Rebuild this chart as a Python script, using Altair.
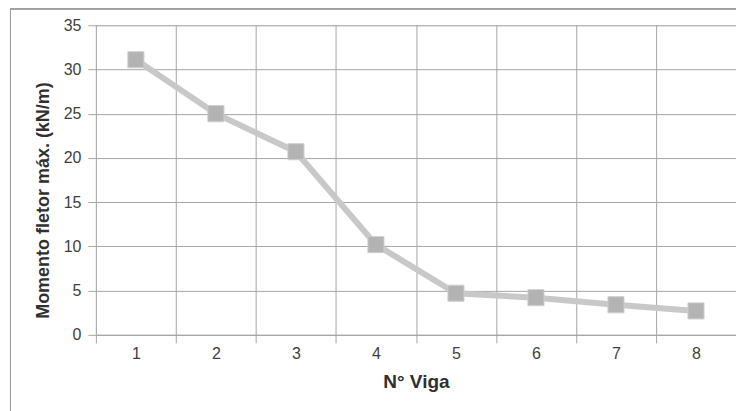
import altair as alt
import pandas as pd

vigas = ["1", "2", "3", "4", "5", "6", "7", "8"]
momento = [31.1, 25.0, 20.7, 10.2, 4.7, 4.2, 3.4, 2.7]

df = pd.DataFrame({"viga": vigas, "momento": momento})

FONT = "Liberation Sans"
GRID = "#a6a6a6"

x = alt.X("viga:N", sort=vigas, title="N° Viga",
          scale=alt.Scale(paddingInner=0, paddingOuter=0),
          axis=alt.Axis(labelAngle=0, tickBand="extent", grid=True, gridColor=GRID,
                        domainColor=GRID, tickColor=GRID, tickSize=8, labelPadding=3,
                        labelFontSize=16, labelColor="#404040", labelFont=FONT,
                        titleFont=FONT, titleFontSize=19, titleFontWeight="bold",
                        titleColor="#303030", titlePadding=11))
y = alt.Y("momento:Q", title="Momento fletor máx.  (kN/m)",
          scale=alt.Scale(domain=[0, 35], nice=False),
          axis=alt.Axis(values=[0, 5, 10, 15, 20, 25, 30, 35], grid=True, gridColor=GRID,
                        domain=False, tickColor=GRID, tickSize=8, labelPadding=7,
                        labelFontSize=16, labelColor="#404040", labelFont=FONT,
                        titleFont=FONT, titleFontSize=18, titleFontWeight="bold",
                        titleColor="#303030", titlePadding=11, titleY=175))

line = alt.Chart(df).mark_line(color="#c8c8c8", strokeWidth=6).encode(x=x, y=y)
pts = alt.Chart(df).mark_square(size=260, color="#b3b3b3", opacity=1,
                                stroke="#d0d0d0", strokeWidth=1).encode(x=x, y=y)

frame_left = alt.Chart(df).mark_rule(color="#a0a0a0", strokeWidth=1, clip=False).encode(
    x=alt.value(-85.5), y=alt.value(-16.5), y2=alt.value(400))
frame_top = alt.Chart(df).mark_rule(color="#a0a0a0", strokeWidth=1, clip=False).encode(
    x=alt.value(-85.5), x2=alt.value(700), y=alt.value(-16.5))

chart = alt.layer(line, pts, frame_left, frame_top).properties(
    width=641, height=310,
    autosize=alt.AutoSizeParams(type="none"),
    padding={"left": 88, "top": 17, "right": 0, "bottom": 76},
).configure_view(stroke=None).configure(background="white")

chart.save("out.html", embed_options={"renderer": "svg", "actions": False})
